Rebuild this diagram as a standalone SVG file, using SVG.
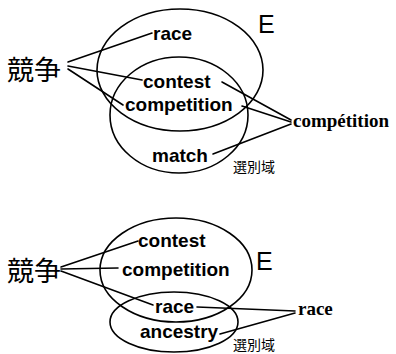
<svg xmlns="http://www.w3.org/2000/svg" width="396" height="354" viewBox="0 0 396 354">
  <style>
    .bg { fill: #ffffff; }
    .set { fill: none; stroke: #000; stroke-width: 1.6; }
    .link { stroke: #000; stroke-width: 1.6; fill: none; stroke-linecap: round; }
    .word { font-family: "Liberation Sans", Arial, sans-serif; font-weight: bold; font-size: 19px; fill: #000; }
    .fr { font-family: "Liberation Serif", "Times New Roman", serif; font-weight: bold; font-size: 19px; fill: #000; }
    .ja { font-family: "Noto Sans CJK JP", sans-serif; fill: #000; }
    .lbl { font-family: "Liberation Sans", Arial, sans-serif; font-size: 25px; fill: #000; }
  </style>
  <rect class="bg" x="0" y="0" width="396" height="354"/>

  <!-- upper figure -->
  <g id="set-E-1"><ellipse class="set" cx="180" cy="70" rx="83" ry="61"/><text class="lbl" x="258" y="33">E</text></g>
  <g id="set-sel-1"><ellipse class="set" cx="179" cy="115" rx="69" ry="58"/><text class="ja" x="233" y="172" font-size="14">選別域</text></g>
  <g id="src-1"><text class="ja" x="7" y="80" font-size="27">競争</text></g>
  <g id="w-race-1"><text class="word" x="153" y="40">race</text></g>
  <g id="w-contest-1"><text class="word" x="143" y="88">contest</text></g>
  <g id="w-competition-1"><text class="word" x="125" y="111">competition</text></g>
  <g id="w-match-1"><text class="word" x="152" y="162">match</text></g>
  <g id="fr-competition"><text class="fr" x="293" y="127">compétition</text></g>

  <!-- lower figure -->
  <g id="set-E-2"><ellipse class="set" cx="176" cy="270" rx="76" ry="52"/><text class="lbl" x="256" y="270">E</text></g>
  <g id="set-sel-2"><ellipse class="set" cx="174" cy="322" rx="64" ry="30"/><text class="ja" x="233" y="350" font-size="14">選別域</text></g>
  <g id="src-2"><text class="ja" x="7" y="281" font-size="27">競争</text></g>
  <g id="w-contest-2"><text class="word" x="138" y="247">contest</text></g>
  <g id="w-competition-2"><text class="word" x="122" y="276">competition</text></g>
  <g id="w-race-2"><text class="word" x="155" y="313">race</text></g>
  <g id="w-ancestry-2"><text class="word" x="140" y="338">ancestry</text></g>
  <g id="fr-race"><text class="fr" x="298" y="315">race</text></g>

  <g id="connectors">
    <line class="link" x1="68" y1="62" x2="152" y2="33"/>
    <line class="link" x1="68" y1="66" x2="142" y2="80"/>
    <line class="link" x1="68" y1="69" x2="123" y2="105"/>
    <line class="link" x1="222" y1="82" x2="291" y2="120"/>
    <line class="link" x1="242" y1="106" x2="291" y2="122"/>
    <line class="link" x1="213" y1="154" x2="291" y2="124"/>

    <line class="link" x1="61" y1="267" x2="138" y2="241"/>
    <line class="link" x1="61" y1="269" x2="118" y2="268"/>
    <line class="link" x1="61" y1="271" x2="153" y2="305"/>
    <line class="link" x1="197" y1="307" x2="295" y2="311"/>
    <line class="link" x1="220" y1="334" x2="295" y2="313"/>
  </g>
</svg>
